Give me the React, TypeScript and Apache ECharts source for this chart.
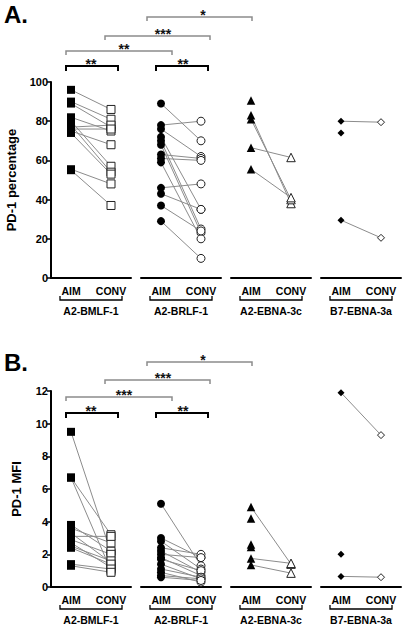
import React, { useEffect, useRef } from "react";
import * as echarts from "echarts";

// ---------- data ----------
const groups = ["A2-BMLF-1", "A2-BRLF-1", "A2-EBNA-3c", "B7-EBNA-3a"];
const conditions = ["AIM", "CONV"];

// Panel A: PD-1 percentage (paired by index, null = no CONV partner)
const pctBmlfAim = [96, 90, 89, 82, 80, 78, 77, 76, 75, 74, 55.5, 55];
const pctBmlfConv = [86, 81, 77, 75, 57, 54, 78, 76, 68, 53, 48, 37];
const pctBrlfAim = [89, 78, 76, 72, 70, 68, 63, 61, 59, 46, 43, 37, 29];
const pctBrlfConv = [70, 80, 62, 35, 25, 23, 61, 60, 20, 48, 35, 24, 10];
const pctEbna3cAim = [90.5, 83, 81, 66.5, 55.5];
const pctEbna3cConv = [null, 38, 40, 61.5, 41];
const pctEbna3aAim = [80, 74, 29.5];
const pctEbna3aConv = [79.5, null, 20.5];

// Panel B: PD-1 MFI
const mfiBmlfAim = [9.5, 6.7, 6.7, 3.8, 3.6, 3.3, 3.1, 2.9, 2.7, 2.5, 2.4, 1.4, 1.3];
const mfiBmlfConv = [2.1, 3.2, 1.0, 2.2, 2.7, 1.5, 3.1, 2.0, 1.2, 1.6, 1.4, 1.1, 0.9];
const mfiBrlfAim = [5.1, 3.0, 2.8, 2.4, 2.2, 2.0, 1.8, 1.7, 1.4, 1.1, 0.9, 0.7, 0.6];
const mfiBrlfConv = [1.3, 1.8, 1.1, 2.0, 0.9, 1.8, 0.7, 1.0, 0.5, 0.6, 0.3, 0.5, 0.4];
const mfiEbna3cAim = [4.9, 4.2, 2.6, 2.45, 1.75, 1.35];
const mfiEbna3cConv = [1.4, null, null, null, 1.45, 0.85];
const mfiEbna3aAim = [11.9, 2.0, 0.65];
const mfiEbna3aConv = [9.3, null, 0.6];

const yTicksA = [0, 100, 20];
const yTicksB = [0, 12, 2];

// ---------- layout ----------
const FONT = "Liberation Sans, Arial, Helvetica, sans-serif";
const gridLefts = [51, 141, 231, 321];
const GRID_W = 80;
const PLOT_H = 196;
const symbols = ["rect", "circle", "triangle", "diamond"];
const symbolSizes = [8, 8, 8.5, 7];

const panels = [
  {
    top: 82,
    ticks: yTicksA,
    name: "PD-1 percentage",
    nameGap: 33,
    title: "A.",
    titleTop: 2,
    data: [
      [pctBmlfAim, pctBmlfConv],
      [pctBrlfAim, pctBrlfConv],
      [pctEbna3cAim, pctEbna3cConv],
      [pctEbna3aAim, pctEbna3aConv],
    ],
    sigY: [66, 51, 36, 17],
    sigLabels: ["**", "**", "**", "***", "*"],
  },
  {
    top: 391,
    ticks: yTicksB,
    name: "PD-1 MFI",
    nameGap: 28,
    title: "B.",
    titleTop: 350,
    data: [
      [mfiBmlfAim, mfiBmlfConv],
      [mfiBrlfAim, mfiBrlfConv],
      [mfiEbna3cAim, mfiEbna3cConv],
      [mfiEbna3aAim, mfiEbna3aConv],
    ],
    sigY: [413, 397, 380, 362],
    sigLabels: ["**", "**", "***", "***", "*"],
  },
];

const catX = (g: number, c: number) => gridLefts[g] + GRID_W / 4 + c * (GRID_W / 2);

function buildOption() {
  const grid: any[] = [];
  const xAxis: any[] = [];
  const yAxis: any[] = [];
  const series: any[] = [];
  const graphic: any[] = [];

  panels.forEach((p, pi) => {
    p.data.forEach(([aim, conv], g) => {
      const idx = pi * 4 + g;
      grid.push({ left: gridLefts[g], top: p.top, width: GRID_W, height: PLOT_H });
      xAxis.push({
        gridIndex: idx,
        type: "category",
        data: conditions,
        boundaryGap: true,
        axisLine: { lineStyle: { color: "#000", width: 2 } },
        axisTick: { alignWithLabel: true, length: 4, lineStyle: { color: "#000", width: 1.5 } },
        axisLabel: { color: "#000", fontFamily: FONT, fontWeight: "bold", fontSize: 10.5, margin: 7 },
        name: groups[g],
        nameLocation: "middle",
        nameGap: 27,
        nameTextStyle: { color: "#000", fontFamily: FONT, fontWeight: "bold", fontSize: 10.5 },
      });
      yAxis.push({
        gridIndex: idx,
        type: "value",
        min: p.ticks[0],
        max: p.ticks[1],
        interval: p.ticks[2],
        show: g === 0,
        axisLine: { show: true, lineStyle: { color: "#000", width: 2 } },
        axisTick: { show: true, length: 4, lineStyle: { color: "#000", width: 1.5 } },
        axisLabel: { color: "#000", fontFamily: FONT, fontWeight: "bold", fontSize: 11, margin: 3 },
        splitLine: { show: false },
        name: g === 0 ? p.name : "",
        nameLocation: "middle",
        nameRotate: 90,
        nameGap: p.nameGap,
        nameTextStyle: { color: "#000", fontFamily: FONT, fontWeight: "bold", fontSize: 13 },
      });
      aim.forEach((a, i) => {
        const c = conv[i];
        if (a != null && c != null) {
          series.push({
            type: "line",
            xAxisIndex: idx,
            yAxisIndex: idx,
            data: [a, c],
            symbol: "none",
            silent: true,
            lineStyle: { color: "#8c8c8c", width: 1 },
            z: 2,
          });
        }
      });
      series.push({
        type: "scatter",
        xAxisIndex: idx,
        yAxisIndex: idx,
        symbol: symbols[g],
        symbolSize: symbolSizes[g],
        itemStyle: { color: "#000", opacity: 1 },
        data: aim.filter((v) => v != null).map((v) => ["AIM", v]),
        z: 4,
      });
      series.push({
        type: "scatter",
        xAxisIndex: idx,
        yAxisIndex: idx,
        symbol: symbols[g],
        symbolSize: symbolSizes[g],
        itemStyle: { color: "#fff", borderColor: "#222", borderWidth: 1, opacity: 1 },
        data: conv.filter((v) => v != null).map((v) => ["CONV", v]),
        z: 4,
      });

      // bracket under AIM/CONV labels
      const by = p.top + PLOT_H + 22;
      const x1 = catX(g, 0) - 11;
      const x2 = catX(g, 1) + 11;
      graphic.push({
        type: "polyline",
        shape: { points: [[x1, by - 4], [x1, by], [x2, by], [x2, by - 4]] },
        style: { stroke: "#000", lineWidth: 1.3, fill: null },
      });
    });

    // panel title
    graphic.push({
      type: "text",
      left: 4,
      top: p.titleTop,
      style: { text: p.title, font: `bold 24px ${FONT}`, fill: "#000" },
    });

    // significance brackets
    const sig = [
      { x1: catX(0, 0) - 5, x2: catX(0, 1) + 7, y: p.sigY[0], black: true, lx: catX(0, 0) + 20 },
      { x1: catX(1, 0) - 5, x2: catX(1, 1) + 7, y: p.sigY[0], black: true, lx: catX(1, 0) + 22 },
      { x1: catX(0, 0) - 5, x2: catX(1, 0) + 11, y: p.sigY[1], black: false, lx: catX(0, 0) + 53 },
      { x1: catX(0, 1) - 6, x2: catX(1, 1) + 9, y: p.sigY[2], black: false, lx: catX(0, 1) + 52 },
      { x1: catX(1, 0) - 14, x2: catX(2, 0) + 1, y: p.sigY[3], black: false, lx: catX(1, 0) + 42 },
    ];
    sig.forEach((s, i) => {
      const drop = s.black ? 5 : 4;
      graphic.push({
        type: "polyline",
        shape: { points: [[s.x1, s.y + drop], [s.x1, s.y], [s.x2, s.y], [s.x2, s.y + drop]] },
        style: { stroke: s.black ? "#000" : "#8c8c8c", lineWidth: s.black ? 2 : 1.5, fill: null },
      });
      graphic.push({
        type: "text",
        x: s.lx,
        y: s.y - 2.5,
        style: {
          text: p.sigLabels[i],
          font: `bold 14px ${FONT}`,
          fill: "#111",
          align: "center",
          verticalAlign: "middle",
        },
      });
    });
  });

  return {
    animation: false,
    backgroundColor: "#fff",
    grid,
    xAxis,
    yAxis,
    series,
    graphic,
  };
}

export default function App() {
  const ref = useRef<HTMLDivElement>(null);
  useEffect(() => {
    if (!ref.current) return;
    const chart = echarts.init(ref.current, null, { renderer: "svg" });
    chart.setOption(buildOption() as any);
    return () => chart.dispose();
  }, []);
  return <div ref={ref} style={{ width: 405, height: 631, position: "absolute", left: 0, top: 0 }} />;
}
